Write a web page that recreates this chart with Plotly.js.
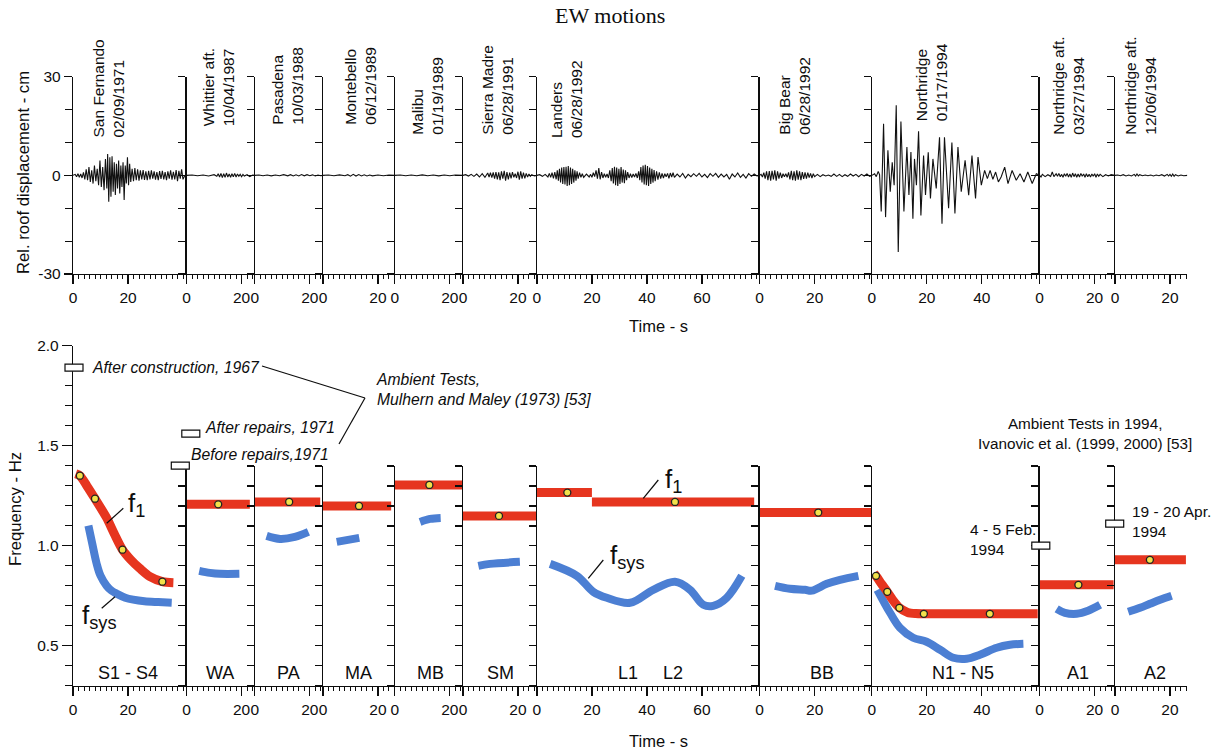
<!DOCTYPE html>
<html><head><meta charset="utf-8">
<script src="https://cdn.plot.ly/plotly-3.0.1.min.js"></script>
<style>html,body{margin:0;padding:0;background:#fff}#chart{width:1220px;height:751px}</style>
</head><body><div id="chart"></div>
<script>
// ================= DATA =================
const eventNames = ['San Fernando','Whittier aft.','Pasadena','Montebello','Malibu','Sierra Madre','Landers','Big Bear','Northridge','Northridge aft.','Northridge aft.'];
const eventDates = ['02/09/1971','10/04/1987','10/03/1988','06/12/1989','01/19/1989','06/28/1991','06/28/1992','06/28/1992','01/17/1994','03/27/1994','12/06/1994'];
const segmentCodes = ['S1 - S4','WA','PA','MA','MB','SM','L1','L2','BB','N1 - N5','A1','A2'];
const recordDuration = [41.3,24.8,24.8,26.1,24.8,26.9,81.0,40.8,61.0,27.4,26.3];
const timeTicks = [0,20,40,60,80];

// Relative roof displacement records, [time s, displacement cm]
const sanFernando = [[0,0],[0.8,0.3],[1.3,-0.4],[1.8,0.5],[2.3,-0.6],[2.8,0.4],[3.3,-0.8],[3.8,0.9],[4.3,-1.2],[4.8,1.8],[5.3,-1.5],[5.8,2.5],[6.3,-2.0],[6.8,1.5],[7.3,-2.5],[7.8,3.0],[8.3,-1.8],[8.8,2.0],[9.3,-3.0],[9.8,4.5],[10.3,-3.5],[10.8,2.5],[11.3,-4.5],[11.8,5.0],[12.3,-4.0],[12.6,6.5],[13.0,-8.0],[13.4,5.5],[13.8,-6.5],[14.2,5.8],[14.6,-5.0],[15.0,4.0],[15.4,-6.0],[15.8,3.5],[16.2,-4.0],[16.6,4.5],[17.0,-5.5],[17.4,3.0],[17.8,-3.5],[18.2,4.0],[18.6,-7.5],[19.0,3.0],[19.4,-2.5],[19.8,5.5],[20.2,-3.0],[20.6,3.5],[21.0,-2.0],[21.5,2.0],[22.0,-1.8],[22.5,2.2],[23.0,-1.5],[23.5,1.8],[24.0,-1.6],[24.5,1.5],[25.0,-1.2],[25.5,1.6],[26.0,-1.4],[26.5,1.2],[27.0,-1.5],[27.5,1.4],[28.0,-1.2],[28.5,1.5],[29.0,-1.0],[29.5,1.2],[30.0,-1.3],[30.5,1.0],[31.0,-1.5],[31.5,1.3],[32.0,-1.1],[32.5,1.4],[33.0,-1.2],[33.5,1.0],[34.0,-1.5],[34.5,1.2],[35.0,-1.0],[35.5,1.5],[36.0,-1.3],[36.5,1.1],[37.0,-1.2],[37.5,1.6],[38.0,-1.8],[38.5,1.4],[39.0,-1.0],[39.5,1.8],[40.0,-1.2],[40.7,0]];
const whittier = [[0,0],[2,0.1],[4,-0.1],[6,0.1],[8,-0.2],[10,0.2],[11,-0.3],[11.5,0.5],[12,-0.5],[12.5,0.6],[13,-0.7],[13.5,0.5],[14,-0.6],[14.5,0.7],[15,-0.5],[15.5,0.4],[16,-0.6],[16.5,0.5],[17,-0.4],[17.5,0.6],[18,-0.5],[18.5,0.4],[19,-0.3],[19.5,0.3],[20,-0.4],[20.5,0.3],[21,-0.2],[22,0.2],[23,-0.4],[24,0.1],[24.8,0]];
const pasadena = [[0,0],[1.5,0.1],[3,-0.1],[4.5,0.1],[6,-0.15],[7.5,0.1],[9,-0.1],[10.5,0.2],[12,-0.15],[13,0.2],[14,-0.2],[15,0.15],[16,-0.2],[17,0.25],[18,-0.15],[19,0.2],[20,-0.1],[21,0.15],[22,-0.2],[23,0.1],[24,-0.1],[24.8,0]];
const montebello = [[0,0],[2,0.1],[4,-0.1],[6,0.15],[8,-0.1],[9,0.2],[10,-0.25],[11,0.3],[12,-0.2],[13,0.25],[14,-0.2],[15,0.15],[16,-0.2],[17,0.1],[18,-0.15],[20,0.1],[22,-0.1],[24,0.1],[26.1,0]];
const malibu = [[0,0],[2,0.1],[4,-0.1],[6,0.1],[8,-0.1],[10,0.15],[12,-0.1],[14,0.1],[16,-0.15],[18,0.1],[20,-0.1],[22,0.1],[24.8,0]];
const sierraMadre = [[0,0],[1,0.2],[2,-0.2],[3,0.3],[4,-0.3],[5,0.4],[6,-0.5],[7,0.5],[8,-0.6],[9,0.7],[9.5,-0.5],[10,0.8],[10.5,-0.7],[11,0.9],[11.5,-1.0],[12,1.0],[12.5,-1.2],[13,0.9],[13.5,-1.5],[14,1.2],[14.5,-1.0],[15,1.4],[15.5,-1.6],[16,1.0],[16.5,-1.2],[17,0.8],[17.5,-0.9],[18,1.0],[18.5,-0.6],[19,0.5],[19.5,-0.8],[20,1.1],[20.5,-1.3],[21,1.2],[21.5,-1.0],[22,0.8],[22.5,-0.9],[23,0.6],[23.5,-0.5],[24,0.4],[24.5,-0.3],[25,0.2],[26,-0.2],[26.9,0]];
const landers = [[0,0],[1,0.2],[2,-0.3],[3,0.3],[4,-0.5],[4.5,0.6],[5,-0.6],[5.5,0.8],[6,-0.9],[6.5,1.0],[7,-1.2],[7.4,1.5],[7.8,-1.6],[8.2,2.0],[8.6,-2.2],[9.0,2.4],[9.4,-2.6],[9.8,2.5],[10.2,-2.8],[10.6,2.6],[11.0,-3.2],[11.4,2.8],[11.8,-3.0],[12.2,2.4],[12.6,-2.6],[13.0,2.0],[13.4,-2.2],[13.8,1.5],[14.2,-1.6],[14.6,1.2],[15.0,-1.0],[15.5,0.8],[16,-0.6],[16.5,0.5],[17,-0.6],[18,0.4],[19,-0.5],[19.5,0.3],[20,-0.6],[20.5,0.8],[21,-0.4],[21.5,1.5],[22,-1.0],[22.5,2.2],[23,-1.2],[23.5,1.0],[24,-0.8],[24.5,0.5],[25,-0.6],[25.5,0.4],[26,-0.8],[26.5,1.5],[27,-1.8],[27.4,2.2],[27.8,-2.5],[28.2,2.6],[28.6,-3.0],[29.0,2.4],[29.4,-3.2],[29.8,2.0],[30.2,-2.6],[30.6,2.5],[31.0,-2.2],[31.4,1.8],[31.8,-2.4],[32.2,1.5],[32.6,-1.5],[33.0,1.0],[33.5,-0.8],[34,0.5],[34.5,-0.7],[35,0.4],[35.5,-0.5],[36,0.6],[36.5,-0.8],[37,1.2],[37.4,-1.5],[37.8,2.5],[38.2,-2.2],[38.6,3.0],[39.0,-2.8],[39.4,3.2],[39.8,-3.0],[40.2,2.8],[40.6,-3.2],[41.0,2.4],[41.4,-2.6],[41.8,2.0],[42.2,-2.2],[42.6,1.6],[43.0,-1.8],[43.5,1.2],[44,-1.3],[44.5,0.9],[45,-1.0],[45.5,0.6],[46,-0.8],[46.5,0.5],[47,-0.4],[47.5,0.6],[48,-0.9],[48.5,0.7],[49,-0.5],[49.5,0.8],[50,-0.6],[51,0.4],[52,-0.5],[53,0.6],[54,-0.8],[55,0.3],[56,-0.4],[57,0.5],[58,-0.3],[59,0.6],[60,-0.5],[61,0.3],[62,-0.7],[63,0.5],[64,-0.3],[65,0.6],[66,-0.6],[67,0.4],[68,-0.5],[69,0.3],[70,-1.2],[71,0.4],[72,-0.5],[73,0.7],[74,-0.6],[75,0.3],[76,-0.8],[77,0.5],[78,-0.3],[79,0.4],[80,-0.2],[81,0]];
const bigBear = [[0,0],[0.5,0.3],[1,-0.5],[1.5,0.8],[2,-1.0],[2.5,1.2],[3,-1.5],[3.5,1.3],[4,-1.6],[4.5,1.4],[5,-1.2],[5.5,1.5],[6,-1.6],[6.5,1.2],[7,-1.0],[7.5,0.8],[8,-0.8],[8.5,0.5],[9,-0.4],[9.5,0.5],[10,-0.6],[10.5,0.9],[11,-1.2],[11.5,1.4],[12,-1.5],[12.5,1.2],[13,-1.6],[13.5,1.5],[14,-1.3],[14.5,1.2],[15,-1.5],[15.5,1.0],[16,-1.1],[16.5,0.9],[17,-1.0],[17.5,0.8],[18,-0.7],[18.5,0.6],[19,-0.8],[19.5,0.5],[20,-0.4],[21,0.3],[22,-0.4],[23,0.2],[24,-0.2],[25,0.1],[26,-0.3],[27,0.4],[28,-0.3],[29,0.3],[30,-0.4],[31,0.2],[32,-0.3],[33,0.4],[34,-0.2],[35,0.3],[36,-0.4],[37,0.3],[38,-0.2],[39,0.4],[40,-0.3],[40.8,0]];
const northridge = [[0,0],[1.0,0.5],[1.6,-0.4],[2.3,1.2],[2.8,0.2],[3.4,-11.0],[4.25,15.7],[4.98,-12.7],[5.83,7.6],[6.68,-5.0],[7.4,4.0],[8.1,-3.0],[8.86,21.3],[9.59,-23.3],[10.56,16.4],[11.65,-11.0],[12.74,8.6],[13.47,-6.0],[14.2,7.1],[14.92,-13.2],[15.5,5.0],[16.2,-3.0],[16.98,13.4],[17.83,-12.2],[18.8,6.0],[19.5,-6.0],[20.5,7.0],[21.3,-7.0],[22.2,5.0],[23.4,-4.0],[24.6,11.6],[25.5,-14.7],[26.4,11.6],[27.9,-10.0],[29.1,10.0],[30.2,-11.6],[31.3,8.6],[32.5,-5.0],[33.9,4.6],[35.2,-6.0],[36.4,6.0],[37.7,-7.0],[38.6,5.6],[39.8,-3.0],[41.0,1.5],[42.0,-1.0],[43.0,1.5],[44.0,-1.2],[45.0,1.0],[46.0,-2.0],[47.0,-0.5],[48.3,2.5],[49.5,-2.5],[51.0,1.5],[52.5,-1.5],[53.9,0.5],[55.3,-2.0],[56.7,1.0],[58.3,-2.5],[59.8,0.5],[61.0,0]];
const northridgeAft1 = [[0,0],[0.5,-0.5],[1,0.3],[2,-0.4],[3,0.2],[4,-0.3],[4.6,1.0],[5.2,-0.4],[6,0.5],[6.5,-0.3],[7,0.6],[7.5,-0.4],[8,0.3],[8.5,-0.6],[9,0.5],[9.5,-0.3],[10,0.6],[10.5,-0.5],[11,0.4],[11.5,-0.6],[12,0.7],[12.5,-0.4],[13,0.5],[13.5,-0.6],[14,0.4],[14.5,-0.5],[15,0.6],[15.5,-0.3],[16,0.4],[16.5,-0.6],[17,0.5],[17.5,-0.4],[18,0.3],[18.5,-0.5],[19,0.4],[19.5,-0.3],[20,0.5],[20.5,-0.6],[21,0.4],[21.5,-0.3],[22,0.3],[23,-0.4],[24,0.2],[25,-0.2],[26,0.2],[27.4,0]];
const northridgeAft2 = [[0,0],[1,0.1],[2,-0.1],[3,0.2],[4,-0.2],[5,0.1],[6,-0.2],[7,0.3],[7.5,-0.2],[8,0.4],[8.5,-0.2],[9,0.2],[10,-0.1],[11,0.1],[12,-0.1],[13,0.1],[14,-0.2],[15,0.1],[16,-0.1],[17,0.2],[18,-0.2],[19,0.3],[19.5,-0.2],[20,0.3],[20.5,-0.3],[21,0.4],[21.5,-0.3],[22,0.2],[23,-0.2],[24,0.1],[25,-0.1],[26.3,0]];
const displacementRecords = [sanFernando, whittier, pasadena, montebello, malibu, sierraMadre, landers, bigBear, northridge, northridgeAft1, northridgeAft2];

// First-mode frequency f1 (Hz): [segment, [[time s, Hz], ...]]
const f1Curves = [
  [0, [[1,1.36],[2.5,1.35],[5,1.30],[8,1.235],[12.2,1.14],[15,1.06],[18,0.98],[21,0.93],[24.4,0.885],[28,0.845],[32.5,0.82],[36.5,0.815]]],
  [1, [[0,1.208],[23.0,1.208]]],
  [2, [[0,1.22],[23.8,1.22]]],
  [3, [[0,1.20],[24.8,1.20]]],
  [4, [[0,1.305],[24.8,1.305]]],
  [5, [[0,1.15],[26.9,1.15]]],
  [6, [[0,1.267],[20,1.267]]],
  [6, [[20,1.22],[79,1.22]]],
  [7, [[0,1.167],[40.8,1.167]]],
  [8, [[0.8,0.86],[1.5,0.85],[3.5,0.81],[5.6,0.77],[7.8,0.725],[10,0.69],[13,0.667],[16,0.661],[18.9,0.66],[30,0.66],[42.9,0.66],[60.3,0.66]]],
  [9, [[0,0.805],[26.9,0.805]]],
  [10, [[0,0.93],[25.8,0.93]]]
];
// identified points on f1: [segment, time s, Hz]
const f1Points = [[0,2.5,1.35],[0,8,1.235],[0,18,0.98],[0,32.5,0.82],[1,11.5,1.208],[2,12.5,1.22],[3,13.1,1.20],[4,12.6,1.305],[5,13.1,1.15],[6,11.05,1.267],[6,50.2,1.22],[7,21.3,1.167],[8,1.5,0.85],[8,5.6,0.77],[8,10,0.69],[8,18.9,0.66],[8,42.9,0.66],[9,14.1,0.805],[10,12.7,0.93]];
// system frequency fsys (Hz)
const fsysCurves = [
  [0, [[5.6,1.10],[7,1.01],[8.6,0.91],[10,0.85],[12.2,0.80],[14,0.775],[15.9,0.76],[19,0.74],[21.9,0.73],[26,0.722],[31,0.718],[35.9,0.715]]],
  [1, [[4.6,0.875],[8.5,0.865],[12.1,0.86],[19.2,0.86]]],
  [2, [[4.3,1.05],[9.2,1.035],[14.6,1.045],[19.5,1.07]]],
  [3, [[5,1.02],[9.1,1.03],[13.2,1.04]]],
  [4, [[9.2,1.12],[12.8,1.135],[16.7,1.14]]],
  [5, [[5.6,0.90],[9.8,0.91],[20.7,0.92]]],
  [6, [[4.8,0.91],[14.5,0.85],[20.5,0.77],[25.4,0.74],[33.9,0.715],[42.3,0.78],[50.2,0.82],[55.7,0.78],[60.5,0.705],[64.1,0.70],[69,0.74],[74.5,0.85]]],
  [7, [[5.6,0.80],[11,0.785],[16.5,0.78],[19,0.776],[24.4,0.81],[29.2,0.83],[35.9,0.85]]],
  [8, [[2.0,0.78],[6.6,0.665],[10.2,0.59],[15,0.54],[19.9,0.52],[24.8,0.48],[29.6,0.44],[34.5,0.435],[39.3,0.455],[45.4,0.49],[50.2,0.505],[55.1,0.51]]],
  [9, [[6.2,0.685],[9.2,0.665],[13.5,0.66],[17.6,0.675],[22,0.705]]],
  [10, [[4.8,0.67],[9.1,0.69],[12.7,0.71],[16.4,0.73],[20.6,0.75]]]
];
// ambient vibration test frequencies (Hz)
const ambientLabels = ['After construction, 1967','After repairs, 1971','Before repairs,1971','4 - 5 Feb.<br>1994','19 - 20 Apr.<br>1994'];
const ambientHz = [1.89, 1.56, 1.40, 1.00, 1.11];

// ================= LAYOUT HELPERS =================
const W = 1220, H = 751, PX0 = 73, PXS = 2.75;
const FONT = 'Liberation Sans, Arial, Helvetica, sans-serif';
const fx = px => px / W, fy = py => 1 - py / H;
const starts = []; let acc = 0;
recordDuration.forEach(d => { starts.push(PX0 + acc * PXS); acc += d; });
const axId = n => (n === 1 ? '' : String(n));
const RED = '#e6351f', BLUE = '#4c7fd3', INK = '#0d0d0d';

const layout = {
  width: W, height: H, margin: {l: 0, r: 0, t: 0, b: 0},
  paper_bgcolor: '#fff', plot_bgcolor: 'rgba(0,0,0,0)', showlegend: false,
  font: {family: FONT, size: 15, color: INK},
  annotations: [], shapes: []
};

for (let i = 0; i < 11; i++) {
  const d = recordDuration[i];
  const dom = [fx(starts[i]), fx(starts[i] + d * PXS)];
  // labelled major ticks (a tick too close to the record end is left to the minor ticks)
  const tv = timeTicks.filter(v => d - v >= 4);
  for (let panel = 0; panel < 2; panel++) {
    const n = i + 1 + panel * 11;
    layout['xaxis' + axId(n)] = {
      domain: dom, range: [0, d], anchor: 'y' + axId(n), showgrid: false, zeroline: false,
      showline: true, linecolor: INK, linewidth: 1.2,
      ticks: 'outside', ticklen: 9, tickwidth: 1.2, tickcolor: INK,
      tickmode: 'array', tickvals: tv, ticktext: tv.map(String), tickfont: {size: 15.5, color: INK},
      minor: {ticks: 'outside', ticklen: 4, tickwidth: 1, tickcolor: INK, tickmode: 'linear', tick0: 0, dtick: 2, showgrid: false},
      fixedrange: true
    };
    const ya = {
      anchor: 'x' + axId(n), side: 'left', showgrid: false, zeroline: false,
      showline: true, linecolor: INK, linewidth: 1.2,
      ticks: 'outside', tickwidth: 1.2, tickcolor: INK, tickfont: {size: 15.5, color: INK}, fixedrange: true
    };
    if (panel === 0) {
      ya.domain = [fy(274), fy(76.7)]; ya.range = [-30, 30];
      if (i === 0) {
        Object.assign(ya, {tickmode: 'array', tickvals: [-30, 0, 30], ticktext: ['-30', '0', '30'], ticklen: 8,
          minor: {ticks: 'outside', ticklen: 7, tickwidth: 1.2, tickcolor: INK, tickmode: 'linear', tick0: 0, dtick: 10}});
      } else {
        Object.assign(ya, {tickmode: 'linear', tick0: 0, dtick: 10, ticklen: 7, showticklabels: false});
      }
    } else {
      if (i === 0) {
        ya.domain = [fy(685.7), fy(345.7)]; ya.range = [0.3, 2.0];
        Object.assign(ya, {tickmode: 'array', tickvals: [0.5, 1.0, 1.5, 2.0], ticktext: ['0.5', '1.0', '1.5', '2.0'], ticklen: 10,
          minor: {ticks: 'outside', ticklen: 7, tickwidth: 1.2, tickcolor: INK, tickmode: 'linear', tick0: 0, dtick: 0.1}});
      } else {
        ya.domain = [fy(685.7), fy(466)]; ya.range = [0.3, 1.4];
        Object.assign(ya, {tickmode: 'linear', tick0: 0, dtick: 0.1, ticklen: 7, showticklabels: false});
      }
    }
    layout['yaxis' + axId(n)] = ya;
  }
}

// ================= TRACES =================
const traces = [];
displacementRecords.forEach((rec, i) => {
  traces.push({type: 'scatter', mode: 'lines', x: rec.map(p => p[0]), y: rec.map(p => p[1]),
    xaxis: 'x' + axId(i + 1), yaxis: 'y' + axId(i + 1), line: {color: '#111', width: 1.1}, hoverinfo: 'skip'});
});
fsysCurves.forEach(([s, pts]) => {
  traces.push({type: 'scatter', mode: 'lines', x: pts.map(p => p[0]), y: pts.map(p => p[1]),
    xaxis: 'x' + axId(s + 12), yaxis: 'y' + axId(s + 12), line: {color: BLUE, width: 8, shape: 'spline', smoothing: 1}, hoverinfo: 'skip'});
});
f1Curves.forEach(([s, pts]) => {
  traces.push({type: 'scatter', mode: 'lines', x: pts.map(p => p[0]), y: pts.map(p => p[1]),
    xaxis: 'x' + axId(s + 12), yaxis: 'y' + axId(s + 12), line: {color: RED, width: 9, shape: 'spline', smoothing: 0.8}, hoverinfo: 'skip'});
});
for (let s = 0; s < 11; s++) {
  const pts = f1Points.filter(p => p[0] === s);
  traces.push({type: 'scatter', mode: 'markers', x: pts.map(p => p[1]), y: pts.map(p => p[2]),
    xaxis: 'x' + axId(s + 12), yaxis: 'y' + axId(s + 12), cliponaxis: false,
    marker: {size: 7, color: '#f3e14a', line: {color: '#222', width: 1.3}}, hoverinfo: 'skip'});
}

// ================= TEXT / ANNOTATIONS =================
const A = layout.annotations, S = layout.shapes;
const ann = (px, py, text, o) => A.push(Object.assign({xref: 'paper', yref: 'paper', x: fx(px), y: fy(py), xanchor: 'center', yanchor: 'middle', text: text, showarrow: false, font: {size: 15, color: INK}}, o || {}));

ann(610, 15, 'EW motions', {font: {family: 'Liberation Serif, Times New Roman, serif', size: 22, color: INK}});
ann(24, 173, 'Rel. roof displacement - cm', {textangle: -90, font: {size: 16.7, color: INK}});
ann(15, 509, 'Frequency - Hz', {textangle: -90, font: {size: 16.7, color: INK}});
ann(658, 326, 'Time - s', {font: {size: 16.5, color: INK}});
ann(658, 741, 'Time - s', {font: {size: 16.5, color: INK}});

const eventLabelPos = [[107.5,140],[218,128.3],[288,126.7],[361,126.7],[428,136.7],[498,136.7],[566,140],[795,136.7],[931,123.3],[1069,136.7],[1141,136.7]];
eventNames.forEach((nm, i) => {
  ann(eventLabelPos[i][0], eventLabelPos[i][1], nm + '<br>' + eventDates[i], {textangle: -90, align: 'left', xanchor: 'center', yanchor: 'bottom', font: {size: 15.5, color: INK}});
});

const codePos = [128,220,288,358,430,500,628,673,822,963,1078,1155];
segmentCodes.forEach((c, i) => ann(codePos[i], 673, c, {font: {size: 18, color: INK}}));

// ambient test boxes (value via y axis) and labels
const boxPx = [74, 190.8, 180.3, 1040.8, 1114.7];
ambientHz.forEach((v, i) => {
  S.push({type: 'rect', xref: 'paper', xsizemode: 'pixel', xanchor: fx(boxPx[i]), x0: -9, x1: 9,
    yref: 'y12', ysizemode: 'pixel', yanchor: v, y0: -3.5, y1: 3.5,
    fillcolor: '#fff', line: {color: INK, width: 1.2}});
});
ann(90, 367, '<i>' + ambientLabels[0] + '</i>', {xanchor: 'left', font: {size: 15.7, color: INK}});
ann(203, 428, '<i>' + ambientLabels[1] + '</i>', {xanchor: 'left', font: {size: 15.7, color: INK}});
ann(189, 454, '<i>' + ambientLabels[2] + '</i>', {xanchor: 'left', font: {size: 15.7, color: INK}});
ann(968, 539, ambientLabels[3], {xanchor: 'left', align: 'left', font: {size: 15.5, color: INK}});
ann(1130, 521, ambientLabels[4], {xanchor: 'left', align: 'left', font: {size: 15.5, color: INK}});
ann(374, 389, '<i>Ambient Tests,</i><br><i>Mulhern and Maley (1973) [53]</i>', {xanchor: 'left', align: 'left', font: {size: 15.7, color: INK}});
ann(1085, 434, 'Ambient Tests in 1994,<br>Ivanovic et al. (1999, 2000) [53]', {align: 'center', font: {size: 15.3, color: INK}});

// curve labels
ann(136, 505, 'f<sub>1</sub>', {font: {size: 26, color: INK}});
ann(673, 480, 'f<sub>1</sub>', {font: {size: 26, color: INK}});
ann(100, 616, 'f<sub>sys</sub>', {font: {size: 26, color: INK}});
ann(627, 556, 'f<sub>sys</sub>', {font: {size: 26, color: INK}});

// leader lines
const leader = (x0, y0, x1, y1) => S.push({type: 'line', xref: 'paper', yref: 'paper', x0: fx(x0), y0: fy(y0), x1: fx(x1), y1: fy(y1), line: {color: INK, width: 1.2}});
leader(123.3, 508.3, 106.7, 523.3);
leader(101.7, 608.3, 115, 596.7);
leader(658.3, 480, 643.3, 498.3);
leader(603.3, 560, 588.3, 578.3);
leader(262, 366, 365, 398);
leader(365, 398, 339, 444);

Plotly.newPlot('chart', traces, layout, {staticPlot: true, displayModeBar: false});
</script>
</body></html>
